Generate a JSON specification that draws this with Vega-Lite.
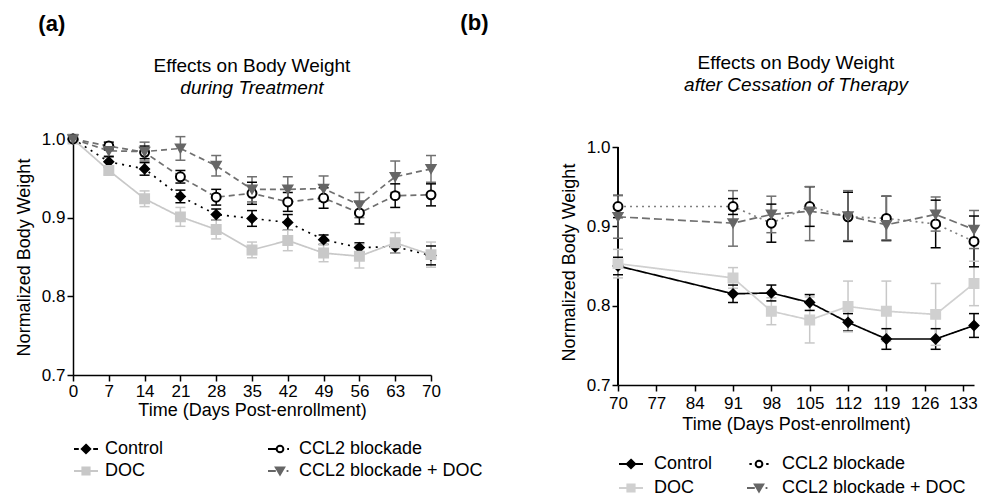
{
  "$schema": "https://vega.github.io/schema/vega-lite/v6.json",
  "background": "white",
  "padding": {"left": 15, "top": 12, "right": 0, "bottom": 0},
  "config": {
    "font": "Liberation Sans",
    "view": {"stroke": null},
    "axis": {"grid": false, "domainColor": "#000", "tickColor": "#000", "domainWidth": 1.5, "tickWidth": 1.5, "tickSize": 6, "labelFontSize": 17, "labelColor": "#000", "titleFontSize": 18, "titleFontWeight": "normal", "titleColor": "#000", "labelFlush": false, "labelOverlap": false, "labelPadding": 2},
    "axisY": {"titlePadding": 8},
    "axisX": {"titlePadding": 2},
    "title": {"fontSize": 19, "fontWeight": "normal", "color": "#000", "subtitleFontSize": 19, "subtitleFontStyle": "italic", "subtitleColor": "#000", "subtitlePadding": 3},
    "legend": {"labelFontSize": 18, "labelColor": "#000", "labelFont": "Liberation Sans", "labelLimit": 0}
  },
  "datasets": {
    "a": [
      {"series": "Control", "day": 0, "w": 1.0, "lo": 1.0, "hi": 1.0},
      {"series": "Control", "day": 7, "w": 0.971, "lo": 0.964, "hi": 0.978},
      {"series": "Control", "day": 14, "w": 0.962, "lo": 0.954, "hi": 0.970},
      {"series": "Control", "day": 21, "w": 0.927, "lo": 0.919, "hi": 0.935},
      {"series": "Control", "day": 28, "w": 0.904, "lo": 0.897, "hi": 0.911},
      {"series": "Control", "day": 35, "w": 0.899, "lo": 0.889, "hi": 0.909},
      {"series": "Control", "day": 42, "w": 0.894, "lo": 0.884, "hi": 0.904},
      {"series": "Control", "day": 49, "w": 0.872, "lo": 0.866, "hi": 0.878},
      {"series": "Control", "day": 56, "w": 0.862, "lo": 0.856, "hi": 0.868},
      {"series": "Control", "day": 63, "w": 0.863, "lo": 0.855, "hi": 0.871},
      {"series": "Control", "day": 70, "w": 0.852, "lo": 0.840, "hi": 0.864},
      {"series": "DOC", "day": 0, "w": 1.0, "lo": 1.0, "hi": 1.0},
      {"series": "DOC", "day": 7, "w": 0.960, "lo": 0.955, "hi": 0.965},
      {"series": "DOC", "day": 14, "w": 0.924, "lo": 0.914, "hi": 0.934},
      {"series": "DOC", "day": 21, "w": 0.901, "lo": 0.889, "hi": 0.913},
      {"series": "DOC", "day": 28, "w": 0.885, "lo": 0.873, "hi": 0.897},
      {"series": "DOC", "day": 35, "w": 0.859, "lo": 0.849, "hi": 0.869},
      {"series": "DOC", "day": 42, "w": 0.871, "lo": 0.858, "hi": 0.884},
      {"series": "DOC", "day": 49, "w": 0.855, "lo": 0.844, "hi": 0.866},
      {"series": "DOC", "day": 56, "w": 0.851, "lo": 0.836, "hi": 0.866},
      {"series": "DOC", "day": 63, "w": 0.868, "lo": 0.855, "hi": 0.881},
      {"series": "DOC", "day": 70, "w": 0.853, "lo": 0.837, "hi": 0.869},
      {"series": "CCL2 blockade", "day": 0, "w": 1.0, "lo": 1.0, "hi": 1.0},
      {"series": "CCL2 blockade", "day": 7, "w": 0.991, "lo": 0.986, "hi": 0.996},
      {"series": "CCL2 blockade", "day": 14, "w": 0.983, "lo": 0.975, "hi": 0.991},
      {"series": "CCL2 blockade", "day": 21, "w": 0.952, "lo": 0.944, "hi": 0.960},
      {"series": "CCL2 blockade", "day": 28, "w": 0.926, "lo": 0.916, "hi": 0.936},
      {"series": "CCL2 blockade", "day": 35, "w": 0.931, "lo": 0.917, "hi": 0.945},
      {"series": "CCL2 blockade", "day": 42, "w": 0.920, "lo": 0.908, "hi": 0.932},
      {"series": "CCL2 blockade", "day": 49, "w": 0.925, "lo": 0.912, "hi": 0.938},
      {"series": "CCL2 blockade", "day": 56, "w": 0.906, "lo": 0.892, "hi": 0.920},
      {"series": "CCL2 blockade", "day": 63, "w": 0.928, "lo": 0.913, "hi": 0.943},
      {"series": "CCL2 blockade", "day": 70, "w": 0.929, "lo": 0.915, "hi": 0.943},
      {"series": "CCL2 blockade + DOC", "day": 0, "w": 1.0, "lo": 1.0, "hi": 1.0},
      {"series": "CCL2 blockade + DOC", "day": 7, "w": 0.985, "lo": 0.977, "hi": 0.993},
      {"series": "CCL2 blockade + DOC", "day": 14, "w": 0.984, "lo": 0.972, "hi": 0.996},
      {"series": "CCL2 blockade + DOC", "day": 21, "w": 0.988, "lo": 0.973, "hi": 1.003},
      {"series": "CCL2 blockade + DOC", "day": 28, "w": 0.966, "lo": 0.953, "hi": 0.979},
      {"series": "CCL2 blockade + DOC", "day": 35, "w": 0.936, "lo": 0.920, "hi": 0.952},
      {"series": "CCL2 blockade + DOC", "day": 42, "w": 0.936, "lo": 0.920, "hi": 0.952},
      {"series": "CCL2 blockade + DOC", "day": 49, "w": 0.937, "lo": 0.921, "hi": 0.953},
      {"series": "CCL2 blockade + DOC", "day": 56, "w": 0.916, "lo": 0.900, "hi": 0.932},
      {"series": "CCL2 blockade + DOC", "day": 63, "w": 0.952, "lo": 0.932, "hi": 0.972},
      {"series": "CCL2 blockade + DOC", "day": 70, "w": 0.962, "lo": 0.945, "hi": 0.979}
    ],
    "b": [
      {"series": "Control", "day": 70, "w": 0.850, "lo": 0.839, "hi": 0.861},
      {"series": "Control", "day": 91, "w": 0.815, "lo": 0.804, "hi": 0.826},
      {"series": "Control", "day": 98, "w": 0.816, "lo": 0.806, "hi": 0.826},
      {"series": "Control", "day": 105, "w": 0.804, "lo": 0.794, "hi": 0.814},
      {"series": "Control", "day": 112, "w": 0.779, "lo": 0.768, "hi": 0.790},
      {"series": "Control", "day": 119, "w": 0.758, "lo": 0.745, "hi": 0.771},
      {"series": "Control", "day": 128, "w": 0.758, "lo": 0.745, "hi": 0.771},
      {"series": "Control", "day": 135, "w": 0.775, "lo": 0.760, "hi": 0.790},
      {"series": "DOC", "day": 70, "w": 0.853, "lo": 0.835, "hi": 0.871},
      {"series": "DOC", "day": 91, "w": 0.835, "lo": 0.822, "hi": 0.848},
      {"series": "DOC", "day": 98, "w": 0.793, "lo": 0.776, "hi": 0.810},
      {"series": "DOC", "day": 105, "w": 0.782, "lo": 0.753, "hi": 0.811},
      {"series": "DOC", "day": 112, "w": 0.799, "lo": 0.767, "hi": 0.831},
      {"series": "DOC", "day": 119, "w": 0.793, "lo": 0.755, "hi": 0.831},
      {"series": "DOC", "day": 128, "w": 0.789, "lo": 0.750, "hi": 0.828},
      {"series": "DOC", "day": 135, "w": 0.828, "lo": 0.800, "hi": 0.856},
      {"series": "CCL2 blockade", "day": 70, "w": 0.925, "lo": 0.911, "hi": 0.939},
      {"series": "CCL2 blockade", "day": 91, "w": 0.925, "lo": 0.915, "hi": 0.935},
      {"series": "CCL2 blockade", "day": 98, "w": 0.904, "lo": 0.880, "hi": 0.928},
      {"series": "CCL2 blockade", "day": 105, "w": 0.925, "lo": 0.900, "hi": 0.950},
      {"series": "CCL2 blockade", "day": 112, "w": 0.912, "lo": 0.881, "hi": 0.943},
      {"series": "CCL2 blockade", "day": 119, "w": 0.910, "lo": 0.882, "hi": 0.938},
      {"series": "CCL2 blockade", "day": 128, "w": 0.903, "lo": 0.873, "hi": 0.933},
      {"series": "CCL2 blockade", "day": 135, "w": 0.881, "lo": 0.849, "hi": 0.913},
      {"series": "CCL2 blockade + DOC", "day": 70, "w": 0.912, "lo": 0.885, "hi": 0.939},
      {"series": "CCL2 blockade + DOC", "day": 91, "w": 0.904, "lo": 0.875, "hi": 0.945},
      {"series": "CCL2 blockade + DOC", "day": 98, "w": 0.915, "lo": 0.892, "hi": 0.938},
      {"series": "CCL2 blockade + DOC", "day": 105, "w": 0.919, "lo": 0.882, "hi": 0.950},
      {"series": "CCL2 blockade + DOC", "day": 112, "w": 0.913, "lo": 0.882, "hi": 0.945},
      {"series": "CCL2 blockade + DOC", "day": 119, "w": 0.902, "lo": 0.883, "hi": 0.938},
      {"series": "CCL2 blockade + DOC", "day": 128, "w": 0.915, "lo": 0.894, "hi": 0.937},
      {"series": "CCL2 blockade + DOC", "day": 135, "w": 0.896, "lo": 0.872, "hi": 0.920}
    ]
  },
  "spacing": -23,
  "hconcat": [
    {
      "title": {"text": "(a)", "anchor": "start", "fontSize": 22, "fontWeight": "bold", "offset": 21, "dx": 23},
      "vconcat": [
        {
          "width": 358,
          "height": 236,
          "data": {"name": "a"},
          "title": {"text": "Effects on Body Weight", "subtitle": "during Treatment", "anchor": "middle", "offset": 32},
          "encoding": {
            "x": {"field": "day", "type": "quantitative", "title": "Time (Days Post-enrollment)", "scale": {"domain": [0, 70], "nice": false, "zero": false}, "axis": {"values": [0, 7, 14, 21, 28, 35, 42, 49, 56, 63, 70]}}
          },
          "layer": [
            {
              "mark": {"type": "rule", "strokeWidth": 1.5},
              "encoding": {
                "y": {"field": "lo", "type": "quantitative", "title": "Normalized Body Weight", "scale": {"domain": [0.7, 1.0], "nice": false, "zero": false}, "axis": {"values": [0.7, 0.8, 0.9, 1.0], "format": ".1f"}},
                "y2": {"field": "hi"},
                "color": {"field": "series", "type": "nominal", "legend": null, "scale": {"domain": ["Control", "CCL2 blockade", "DOC", "CCL2 blockade + DOC"], "range": ["#000000", "#000000", "#c8c8c8", "#707070"]}}
              }
            },
            {
              "mark": {"type": "tick", "orient": "horizontal", "size": 10, "thickness": 1.5, "opacity": 1},
              "encoding": {
                "y": {"field": "lo", "type": "quantitative", "title": "Normalized Body Weight"},
                "color": {"field": "series", "type": "nominal", "legend": null}
              }
            },
            {
              "mark": {"type": "tick", "orient": "horizontal", "size": 10, "thickness": 1.5, "opacity": 1},
              "encoding": {
                "y": {"field": "hi", "type": "quantitative", "title": "Normalized Body Weight"},
                "color": {"field": "series", "type": "nominal", "legend": null}
              }
            },
            {
              "mark": {"type": "line", "strokeWidth": 1.7},
              "encoding": {
                "y": {"field": "w", "type": "quantitative", "title": "Normalized Body Weight"},
                "stroke": {"field": "series", "type": "nominal", "legend": null, "scale": {"domain": ["Control", "CCL2 blockade", "DOC", "CCL2 blockade + DOC"], "range": ["#000000", "#707070", "#c8c8c8", "#707070"]}},
                "strokeDash": {"field": "series", "type": "nominal", "legend": null, "scale": {"domain": ["Control", "CCL2 blockade", "DOC", "CCL2 blockade + DOC"], "range": [[2, 5], [6, 4], [1, 0], [6, 4]]}}
              }
            },
            {
              "mark": {"type": "point", "filled": true, "size": 80, "strokeWidth": 2, "opacity": 1},
              "encoding": {
                "y": {"field": "w", "type": "quantitative", "title": "Normalized Body Weight"},
                "shape": {"field": "series", "type": "nominal", "legend": null, "scale": {"domain": ["Control", "CCL2 blockade", "DOC", "CCL2 blockade + DOC"], "range": ["diamond", "circle", "square", "triangle-down"]}},
                "fill": {"field": "series", "type": "nominal", "legend": null, "scale": {"domain": ["Control", "CCL2 blockade", "DOC", "CCL2 blockade + DOC"], "range": ["#000000", "#ffffff", "#c8c8c8", "#666666"]}},
                "stroke": {"field": "series", "type": "nominal", "legend": null, "scale": {"domain": ["Control", "CCL2 blockade", "DOC", "CCL2 blockade + DOC"], "range": ["#000000", "#000000", "#c8c8c8", "#666666"]}}
              }
            },
            {
              "transform": [{"filter": "datum.day < 0"}],
              "mark": {"type": "point", "filled": true, "opacity": 1},
              "encoding": {
                "shape": {"field": "series", "type": "nominal", "scale": {"domain": ["Control", "CCL2 blockade", "DOC", "CCL2 blockade + DOC"], "range": ["M-1,0H-0.6M0.6,0H1M0,-0.35L0.35,0L0,0.35L-0.35,0Z", "M-1,0H-0.3M0.6,0H0.75M-0.28,0A0.28,0.28 0 1,0 0.28,0A0.28,0.28 0 1,0 -0.28,0Z", "M-1,0H1M-0.3,-0.3H0.3V0.3H-0.3Z", "M-1,0H-0.35M0.55,0H0.7M-0.35,-0.3H0.35L0,0.3Z"]}, "legend": {"title": null, "orient": "bottom", "direction": "horizontal", "columns": 2, "symbolSize": 576, "symbolStrokeWidth": 2, "columnPadding": 100, "rowPadding": 0, "offset": 17, "labelOffset": 6, "symbolOpacity": 1}},
                "fill": {"field": "series", "type": "nominal", "scale": {"domain": ["Control", "CCL2 blockade", "DOC", "CCL2 blockade + DOC"], "range": ["#000000", "#ffffff", "#c8c8c8", "#666666"]}, "legend": {"title": null, "orient": "bottom", "direction": "horizontal", "columns": 2, "symbolSize": 576, "symbolStrokeWidth": 2, "columnPadding": 100, "rowPadding": 0, "offset": 17, "labelOffset": 6, "symbolOpacity": 1}},
                "stroke": {"field": "series", "type": "nominal", "scale": {"domain": ["Control", "CCL2 blockade", "DOC", "CCL2 blockade + DOC"], "range": ["#000000", "#000000", "#c8c8c8", "#666666"]}, "legend": {"title": null, "orient": "bottom", "direction": "horizontal", "columns": 2, "symbolSize": 576, "symbolStrokeWidth": 2, "columnPadding": 100, "rowPadding": 0, "offset": 17, "labelOffset": 6, "symbolOpacity": 1}}
              }
            }
          ],
          "resolve": {"scale": {"stroke": "independent", "fill": "independent", "shape": "independent", "strokeDash": "independent"}}
        }
      ]
    },
    {
      "title": {"text": "(b)", "anchor": "start", "fontSize": 22, "fontWeight": "bold", "offset": 19, "dx": -100},
      "vconcat": [
        {
          "width": 356,
          "height": 246,
          "data": {"name": "b"},
          "title": {"text": "Effects on Body Weight", "subtitle": "after Cessation of Therapy", "anchor": "middle", "offset": 43},
          "encoding": {
            "x": {"field": "day", "type": "quantitative", "title": "Time (Days Post-enrollment)", "scale": {"domain": [70, 135], "nice": false, "zero": false}, "axis": {"values": [70, 77, 84, 91, 98, 105, 112, 119, 126, 133], "labelPadding": 4, "titlePadding": 4}}
          },
          "layer": [
            {
              "mark": {"type": "rule", "strokeWidth": 1.5, "color": "#000000"},
              "encoding": {
                "x": {"datum": 70},
                "y": {"datum": 0.7},
                "y2": {"datum": 1.0}
              }
            },
            {
              "mark": {"type": "rule", "strokeWidth": 1.5},
              "encoding": {
                "y": {"field": "lo", "type": "quantitative", "title": "Normalized Body Weight", "scale": {"domain": [0.7, 1.0101], "nice": false, "zero": false}, "axis": {"values": [0.7, 0.8, 0.9, 1.0], "format": ".1f", "domain": false}},
                "y2": {"field": "hi"},
                "color": {"field": "series", "type": "nominal", "legend": null, "scale": {"domain": ["Control", "CCL2 blockade", "DOC", "CCL2 blockade + DOC"], "range": ["#000000", "#707070", "#d0d0d0", "#707070"]}}
              }
            },
            {
              "mark": {"type": "tick", "orient": "horizontal", "size": 10, "thickness": 1.5, "opacity": 1},
              "encoding": {
                "y": {"field": "lo", "type": "quantitative", "title": "Normalized Body Weight"},
                "color": {"field": "series", "type": "nominal", "legend": null}
              }
            },
            {
              "mark": {"type": "tick", "orient": "horizontal", "size": 10, "thickness": 1.5, "opacity": 1},
              "encoding": {
                "y": {"field": "hi", "type": "quantitative", "title": "Normalized Body Weight"},
                "color": {"field": "series", "type": "nominal", "legend": null}
              }
            },
            {
              "mark": {"type": "line", "strokeWidth": 1.7},
              "encoding": {
                "y": {"field": "w", "type": "quantitative", "title": "Normalized Body Weight"},
                "stroke": {"field": "series", "type": "nominal", "legend": null, "scale": {"domain": ["Control", "CCL2 blockade", "DOC", "CCL2 blockade + DOC"], "range": ["#000000", "#808080", "#d0d0d0", "#707070"]}},
                "strokeDash": {"field": "series", "type": "nominal", "legend": null, "scale": {"domain": ["Control", "CCL2 blockade", "DOC", "CCL2 blockade + DOC"], "range": [[1, 0], [2, 4], [1, 0], [8, 4]]}}
              }
            },
            {
              "mark": {"type": "point", "filled": true, "size": 80, "strokeWidth": 2, "opacity": 1},
              "encoding": {
                "y": {"field": "w", "type": "quantitative", "title": "Normalized Body Weight"},
                "shape": {"field": "series", "type": "nominal", "legend": null, "scale": {"domain": ["Control", "CCL2 blockade", "DOC", "CCL2 blockade + DOC"], "range": ["diamond", "circle", "square", "triangle-down"]}},
                "fill": {"field": "series", "type": "nominal", "legend": null, "scale": {"domain": ["Control", "CCL2 blockade", "DOC", "CCL2 blockade + DOC"], "range": ["#000000", "#ffffff", "#d0d0d0", "#666666"]}},
                "stroke": {"field": "series", "type": "nominal", "legend": null, "scale": {"domain": ["Control", "CCL2 blockade", "DOC", "CCL2 blockade + DOC"], "range": ["#000000", "#000000", "#d0d0d0", "#666666"]}}
              }
            },
            {
              "transform": [{"filter": "datum.day < 0"}],
              "mark": {"type": "point", "filled": true, "opacity": 1},
              "encoding": {
                "shape": {"field": "series", "type": "nominal", "scale": {"domain": ["Control", "CCL2 blockade", "DOC", "CCL2 blockade + DOC"], "range": ["M-1,0H1M0,-0.35L0.35,0L0,0.35L-0.35,0Z", "M-0.8,0H-0.6M0.6,0H0.8M-0.28,0A0.28,0.28 0 1,0 0.28,0A0.28,0.28 0 1,0 -0.28,0Z", "M-1,0H1M-0.3,-0.3H0.3V0.3H-0.3Z", "M-1,0H-0.35M0.55,0H0.7M-0.35,-0.3H0.35L0,0.3Z"]}, "legend": {"title": null, "orient": "bottom", "direction": "horizontal", "columns": 2, "symbolSize": 576, "symbolStrokeWidth": 2, "columnPadding": 30, "rowPadding": 2, "offset": 18, "labelOffset": 10, "symbolOpacity": 1}},
                "fill": {"field": "series", "type": "nominal", "scale": {"domain": ["Control", "CCL2 blockade", "DOC", "CCL2 blockade + DOC"], "range": ["#000000", "#ffffff", "#d0d0d0", "#666666"]}, "legend": {"title": null, "orient": "bottom", "direction": "horizontal", "columns": 2, "symbolSize": 576, "symbolStrokeWidth": 2, "columnPadding": 30, "rowPadding": 2, "offset": 18, "labelOffset": 10, "symbolOpacity": 1}},
                "stroke": {"field": "series", "type": "nominal", "scale": {"domain": ["Control", "CCL2 blockade", "DOC", "CCL2 blockade + DOC"], "range": ["#000000", "#000000", "#d0d0d0", "#666666"]}, "legend": {"title": null, "orient": "bottom", "direction": "horizontal", "columns": 2, "symbolSize": 576, "symbolStrokeWidth": 2, "columnPadding": 30, "rowPadding": 2, "offset": 18, "labelOffset": 10, "symbolOpacity": 1}}
              }
            }
          ],
          "resolve": {"scale": {"stroke": "independent", "fill": "independent", "shape": "independent", "strokeDash": "independent"}}
        }
      ]
    }
  ]
}
